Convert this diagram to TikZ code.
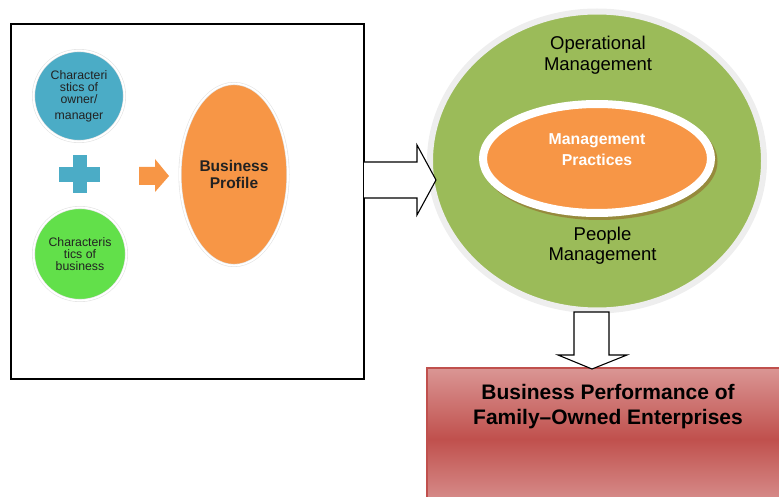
\documentclass[tikz,border=0pt]{standalone}
\usepackage{fontspec}
\setmainfont{Liberation Sans}
\usetikzlibrary{shapes.geometric}
\definecolor{cblue}{HTML}{4BACC6}
\definecolor{cgreen}{HTML}{62E04A}
\definecolor{corange}{HTML}{F79646}
\definecolor{colive}{HTML}{9BBB59}
\definecolor{cring}{HTML}{EEEEEE}
\definecolor{cred}{HTML}{C0504D}
\definecolor{cpink}{HTML}{DA9694}
\definecolor{cshadow}{HTML}{968A3C}
\definecolor{ctext}{HTML}{222222}
\begin{document}
\begin{tikzpicture}[x=1pt,y=-1pt,
  ringed/.style={draw=gray!22, line width=0.6pt, double=white, double distance=1.8pt, inner sep=0pt, outer sep=0pt},
  smallcirc/.style={ringed, circle, minimum size=#1, align=center, text=ctext,
     font=\fontsize{12.3}{12}\selectfont},
  blockarrow/.style={draw=black, fill=white, line width=1.1pt, line join=miter},
  bigtext/.style={align=center, font=\fontsize{18.5}{20.5}\selectfont},
]
\useasboundingbox (0,0) rectangle (779,497);
\clip (0,0) rectangle (779,497);

% left frame
\node[draw=black, line width=1.2pt, inner sep=0pt, outer sep=0pt,
      minimum width=353pt, minimum height=355pt] (leftbox) at (187.5,201.5) {};

% circles
\node[smallcirc=91pt, fill=cblue] (owner) at (79,96)
  {Characteri\\stics of\\owner/\\[4pt]manager};
\node[smallcirc=93pt, fill=cgreen] (busc) at (80,254)
  {Characteris\\tics of\\business};

% plus sign
\node[fill=cblue, inner sep=0pt, minimum width=41pt, minimum height=15pt] (plush) at (79.5,174.5) {};
\node[fill=cblue, inner sep=0pt, minimum width=14pt, minimum height=38pt] (plusv) at (80,174) {};

% small orange arrow
\coordinate (oa) at (139,176);
\fill[corange] (oa) ++(0,-9) -- ++(16,0) -- ++(0,-8) -- ++(14,17) -- ++(-14,16) -- ++(0,-7) -- ++(-16,0) -- cycle;

% business profile
\node[ringed, ellipse, fill=corange, minimum width=108pt, minimum height=182pt,
      align=center, text=ctext, font=\bfseries\fontsize{15.5}{17.5}\selectfont] (profile) at (234,174.5)
  {Business\\Profile};

% big green ellipse
\node[ellipse, fill=colive, draw=cring, line width=6pt, inner sep=0pt,
      minimum width=334pt, minimum height=299pt] (mgmt) at (597,161) {};
\node[bigtext] (oper) at (598,55) {Operational\\Management};
\node[bigtext] (people) at (602.5,245.5) {People\\Management};

% inner ellipse with shadow
\node[ellipse, fill=cshadow, inner sep=0pt, minimum width=236pt, minimum height=117pt] (pshadow) at (599.5,161.5) {};
\node[ellipse, fill=corange, draw=white, line width=8pt, inner sep=0pt,
      minimum width=228pt, minimum height=109pt] (practice) at (597,158.5) {};
\node[align=center, text=white, font=\bfseries\fontsize{15.8}{21}\selectfont] (practext) at (597,149.5)
  {Management\\Practices};

% red box
\node[draw=cred, line width=1.5pt, inner sep=0pt, outer sep=0pt,
      top color=cpink, bottom color=cpink, middle color=cred,
      minimum width=373pt, minimum height=142pt] (perf) at (613.5,439) {};
\node[align=center, font=\bfseries\fontsize{21}{25}\selectfont] (perftext) at (608,406.5)
  {Business Performance of\\Family–Owned Enterprises};

% hollow arrow right
\coordinate (a1s) at (leftbox.east |- 0,180);
\coordinate (a1t) at (436,180);
\draw[blockarrow] (a1s) ++(0,-18) -- ++(53,0) -- ++(0,-17) -- (a1t) -- ++(-19,35) -- ++(0,-17) -- ++(-53,0);

% hollow arrow down
\coordinate (a2s) at (591.5,312);
\coordinate (a2t) at (592,369);
\draw[blockarrow] (a2s) ++(-17.5,0) -- ++(35,0) -- ++(0,43) -- ++(18,0) -- (a2t) -- ++(-34,-14) -- ++(16,0) -- cycle;
\end{tikzpicture}
\end{document}
